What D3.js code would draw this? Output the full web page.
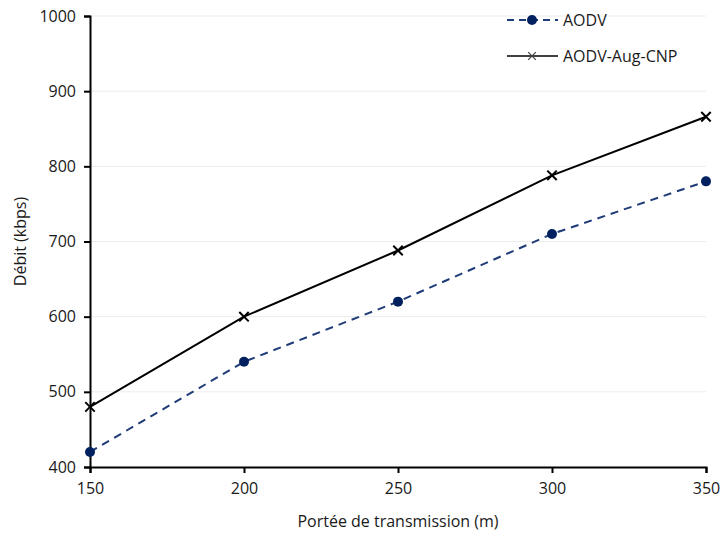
<!DOCTYPE html>
<html>
<head>
<meta charset="utf-8">
<script src="https://cdn.jsdelivr.net/npm/d3@7"></script>
<style>
    body { margin: 0; background: #fff; }
    text { font-family: "Open Sans", "Noto Sans", sans-serif; fill: #1a1a1a; }
</style>
</head>
<body>
<div id="chart"></div>
<script>
const portee = [150, 200, 250, 300, 350]
const aodv = [420, 540, 620, 710, 780]
const aodvAugCnp = [480, 600, 688, 788, 866]
const xTicks = [150, 200, 250, 300, 350]
const yTicks = [400, 500, 600, 700, 800, 900, 1000]
const seriesNames = ["AODV", "AODV-Aug-CNP"]

const width = 723, height = 534
const margin = { top: 16, right: 17, bottom: 67, left: 90 }

const svg = d3.select("#chart")
    .append("svg")
    .attr("width", width)
    .attr("height", height)

const xScale = d3.scaleLinear()
    .domain([150, 350])
    .range([margin.left, width - margin.right])

const yScale = d3.scaleLinear()
    .domain([400, 1000])
    .range([height - margin.bottom, margin.top])

// grid
svg.append("g")
    .selectAll("line")
    .data(yTicks.slice(1))
    .enter()
    .append("line")
    .attr("x1", margin.left)
    .attr("x2", width - margin.right)
    .attr("y1", d => yScale(d))
    .attr("y2", d => yScale(d))
    .attr("stroke", "#ececec")
    .attr("stroke-width", 1)

const xAxis = svg.append("g")
    .attr("transform", `translate(0,${height - margin.bottom})`)
    .call(d3.axisBottom(xScale).tickValues(xTicks).tickFormat(d3.format("d")).tickSize(6).tickPadding(10))
xAxis.select(".domain").attr("stroke", "#000").attr("stroke-width", 2)
xAxis.selectAll(".tick line").attr("stroke", "#000").attr("stroke-width", 2)
xAxis.selectAll("text").attr("font-size", 16).attr("fill", "#1a1a1a")

const yAxis = svg.append("g")
    .attr("transform", `translate(${margin.left},0)`)
    .call(d3.axisLeft(yScale).tickValues(yTicks).tickFormat(d3.format("d")).tickSize(6).tickPadding(8))
yAxis.select(".domain").attr("stroke", "#000").attr("stroke-width", 2)
yAxis.selectAll(".tick line").attr("stroke", "#000").attr("stroke-width", 2)
yAxis.selectAll("text").attr("font-size", 16).attr("fill", "#1a1a1a")

// axis titles
svg.append("text")
    .attr("x", (margin.left + width - margin.right) / 2)
    .attr("y", 527)
    .attr("text-anchor", "middle")
    .attr("font-size", 16)
    .text("Portée de transmission (m)")

svg.append("text")
    .attr("transform", `translate(26,${(margin.top + height - margin.bottom) / 2}) rotate(-90)`)
    .attr("text-anchor", "middle")
    .attr("font-size", 16)
    .text("Débit (kbps)")

const line = d3.line()
    .x((d, i) => xScale(portee[i]))
    .y(d => yScale(d))

const navy = "#002060"

svg.append("path")
    .datum(aodv)
    .attr("d", line)
    .attr("fill", "none")
    .attr("stroke", "#1f3c78")
    .attr("stroke-width", 2)
    .attr("stroke-dasharray", "8,6")

svg.append("path")
    .datum(aodvAugCnp)
    .attr("d", line)
    .attr("fill", "none")
    .attr("stroke", "#000")
    .attr("stroke-width", 2)

svg.append("g")
    .selectAll("circle")
    .data(aodv)
    .enter()
    .append("circle")
    .attr("cx", (d, i) => xScale(portee[i]))
    .attr("cy", d => yScale(d))
    .attr("r", 5)
    .attr("fill", navy)

const cross = d3.symbol().type(d3.symbolX).size(60)
svg.append("g")
    .selectAll("path")
    .data(aodvAugCnp)
    .enter()
    .append("path")
    .attr("d", cross)
    .attr("transform", (d, i) => `translate(${xScale(portee[i])},${yScale(d)})`)
    .attr("stroke", "#000")
    .attr("stroke-width", 2)
    .attr("fill", "none")

// legend
const legend = svg.append("g")
legend.append("line")
    .attr("x1", 507).attr("x2", 558).attr("y1", 20).attr("y2", 20)
    .attr("stroke", "#1f3c78").attr("stroke-width", 2).attr("stroke-dasharray", "7,5")
legend.append("circle")
    .attr("cx", 532).attr("cy", 20).attr("r", 5).attr("fill", navy)
legend.append("text")
    .attr("x", 563).attr("y", 26).attr("font-size", 16).text(seriesNames[0])

legend.append("line")
    .attr("x1", 507).attr("x2", 558).attr("y1", 56).attr("y2", 56)
    .attr("stroke", "#000").attr("stroke-width", 1.5)
legend.append("path")
    .attr("d", d3.symbol().type(d3.symbolX).size(40))
    .attr("transform", "translate(532,56)")
    .attr("stroke", "#444").attr("stroke-width", 1.2)
legend.append("text")
    .attr("x", 563).attr("y", 62).attr("font-size", 16).text(seriesNames[1])
</script>
</body>
</html>
